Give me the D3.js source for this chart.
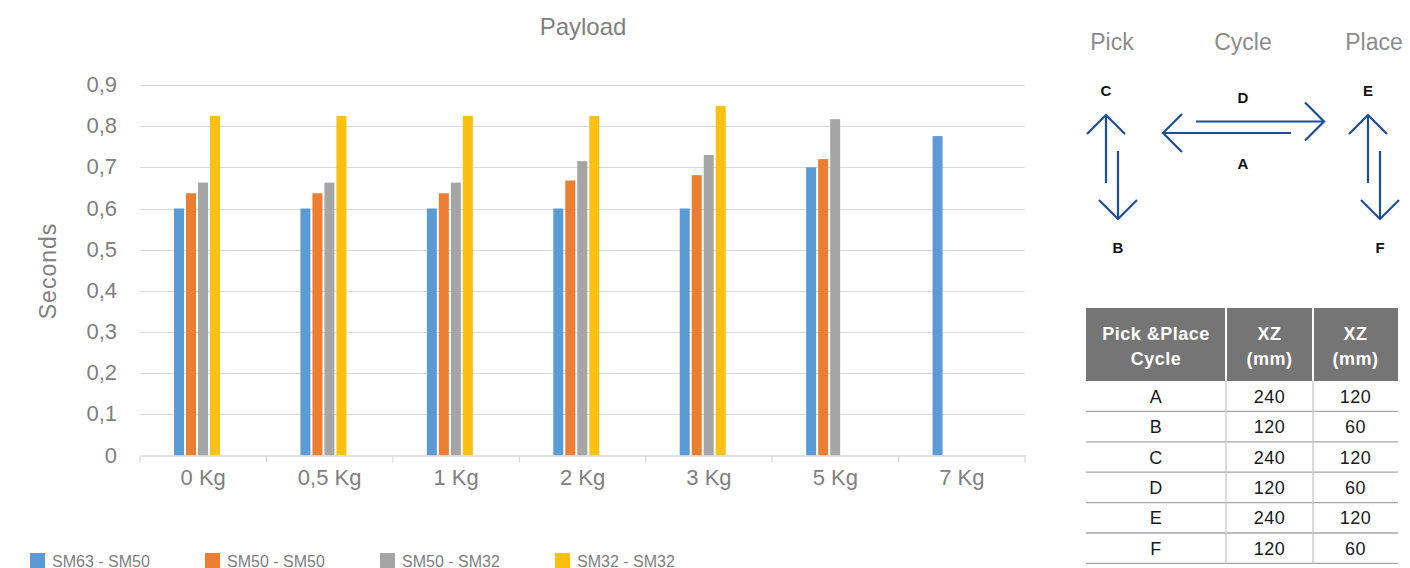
<!DOCTYPE html>
<html>
<head>
<meta charset="utf-8">
<script src="https://cdn.jsdelivr.net/npm/d3@7"></script>
<style>
  html, body { margin: 0; padding: 0; background: #fff; }
  svg { display: block; font-family: "Liberation Sans", Arial, Helvetica, sans-serif; }
</style>
</head>
<body>
<svg id="chart" width="1410" height="568"></svg>
<script>
// ---------- data ----------
const categories = ["0 Kg", "0,5 Kg", "1 Kg", "2 Kg", "3 Kg", "5 Kg", "7 Kg"];
const seriesNames = ["SM63 - SM50", "SM50 - SM50", "SM50 - SM32", "SM32 - SM32"];
const sm63_sm50 = [0.60, 0.60, 0.60, 0.60, 0.60, 0.70, 0.776];
const sm50_sm50 = [0.637, 0.637, 0.637, 0.668, 0.681, 0.72, null];
const sm50_sm32 = [0.663, 0.663, 0.663, 0.715, 0.730, 0.817, null];
const sm32_sm32 = [0.825, 0.825, 0.825, 0.825, 0.849, null, null];
const yTicks = [0, 0.1, 0.2, 0.3, 0.4, 0.5, 0.6, 0.7, 0.8, 0.9];
const colors = ["#5b9bd5", "#ed7d31", "#a5a5a5", "#fcc010"];

const diagramHeads = ["Pick", "Cycle", "Place"];
const tableHeader = [["Pick &Place", "Cycle"], ["XZ", "(mm)"], ["XZ", "(mm)"]];
const tableCycles = ["A", "B", "C", "D", "E", "F"];
const tableXZ1 = [240, 120, 240, 120, 240, 120];
const tableXZ2 = [120, 60, 120, 60, 120, 60];

// ---------- chart ----------
const svg = d3.select("#chart");
const allSeries = [sm63_sm50, sm50_sm50, sm50_sm32, sm32_sm32];

const x = d3.scaleBand().domain(categories).range([140, 1025]).padding(0);
const y = d3.scaleLinear().domain([0, 0.9]).range([455.5, 85]);
const barW = 10, barStep = 12, groupOffset = 34;

// title
svg.append("text").attr("x", 583).attr("y", 35).attr("text-anchor", "middle")
  .attr("font-size", 24).attr("fill", "#808080").text("Payload");

// gridlines
svg.append("g").selectAll("line").data(yTicks.slice(1)).join("line")
  .attr("x1", 140).attr("x2", 1025)
  .attr("y1", d => Math.round(y(d)) + 0.5).attr("y2", d => Math.round(y(d)) + 0.5)
  .attr("stroke", "#d9d9d9").attr("stroke-width", 1.2);

// y tick labels
svg.append("g").selectAll("text").data(yTicks).join("text")
  .attr("x", 117).attr("y", d => y(d) + 7)
  .attr("text-anchor", "end").attr("font-size", 22).attr("fill", "#808080")
  .text(d => d3.format(".1f")(d).replace(".", ",").replace(/^0,0$/, "0"));

// y axis title
svg.append("text").attr("transform", "translate(56,271) rotate(-90)")
  .attr("text-anchor", "middle").attr("font-size", 23).attr("letter-spacing", 1)
  .attr("fill", "#808080").text("Seconds");

// bars
allSeries.forEach((vals, si) => {
  svg.append("g").selectAll("rect")
    .data(categories.map((c, i) => ({ c, v: vals[i] })).filter(d => d.v != null))
    .join("rect")
    .attr("x", d => x(d.c) + groupOffset + si * barStep)
    .attr("y", d => y(d.v))
    .attr("width", barW)
    .attr("height", d => y(0) - y(d.v))
    .attr("fill", colors[si]);
});

// x axis
const xAxis = d3.axisBottom(x).tickSize(0).tickFormat(d => d);
const gx = svg.append("g").attr("transform", `translate(0,${y(0)})`).call(xAxis);
gx.select(".domain").attr("stroke", "#d9d9d9").attr("stroke-width", 1.5);
gx.selectAll(".tick text").attr("font-size", 22).attr("fill", "#808080")
  .attr("font-family", "Liberation Sans, Arial, sans-serif").attr("dy", 0).attr("y", 29);
// boundary tick marks
const bounds = categories.map(c => x(c)).concat([x.range()[1]]);
svg.append("g").selectAll("line").data(bounds).join("line")
  .attr("x1", d => d).attr("x2", d => d).attr("y1", y(0)).attr("y2", y(0) + 7)
  .attr("stroke", "#d9d9d9").attr("stroke-width", 1.2);

// legend
const legend = svg.append("g").selectAll("g").data(seriesNames).join("g")
  .attr("transform", (d, i) => `translate(${30 + i * 175},553)`);
legend.append("rect").attr("width", 15).attr("height", 15).attr("fill", (d, i) => colors[i]);
legend.append("text").attr("x", 22).attr("y", 13.5).attr("font-size", 16)
  .attr("fill", "#808080").text(d => d);

// ---------- cycle diagram ----------
const headX = [1112, 1243, 1374];
svg.append("g").selectAll("text").data(diagramHeads).join("text")
  .attr("x", (d, i) => headX[i]).attr("y", 50).attr("text-anchor", "middle")
  .attr("font-size", 23).attr("fill", "#8c8c8c").text(d => d);

const arrowColor = "#1b4f9c";
const arrows = [
  // [tail x, tail y, tip x, tip y]
  [1106, 183, 1106, 115],
  [1118, 151, 1118, 219],
  [1196, 121.5, 1324, 121.5],
  [1291, 133, 1163, 133],
  [1368, 183, 1368, 115],
  [1380, 151, 1380, 219]
];
const ag = svg.append("g").attr("stroke", arrowColor).attr("stroke-width", 2.2)
  .attr("fill", "none").attr("stroke-linecap", "butt");
arrows.forEach(([x1, y1, x2, y2]) => {
  const dx = Math.sign(x2 - x1), dy = Math.sign(y2 - y1);
  const h = 19;
  ag.append("line").attr("x1", x1).attr("y1", y1).attr("x2", x2).attr("y2", y2);
  const p1 = [x2 - dx * h - dy * h, y2 - dy * h - dx * h];
  const p2 = [x2 - dx * h + dy * h, y2 - dy * h + dx * h];
  ag.append("path").attr("d", `M${p1[0]},${p1[1]}L${x2},${y2}L${p2[0]},${p2[1]}`);
});

const letterPos = [["C", 1106, 96], ["D", 1243, 103], ["E", 1368, 96],
                   ["A", 1243, 169], ["B", 1118, 253], ["F", 1380, 253]];
svg.append("g").selectAll("text").data(letterPos).join("text")
  .attr("x", d => d[1]).attr("y", d => d[2]).attr("text-anchor", "middle")
  .attr("font-size", 15).attr("font-weight", "bold").attr("fill", "#111").text(d => d[0]);

// ---------- table ----------
const colEdges = [1086, 1226, 1313, 1398];
const headTop = 308, headBot = 381, rowH = 30.4;
const tg = svg.append("g");
tg.append("rect").attr("x", colEdges[0]).attr("y", headTop)
  .attr("width", colEdges[3] - colEdges[0]).attr("height", headBot - headTop).attr("fill", "#757575");
tableHeader.forEach((lines, ci) => {
  const cx = (colEdges[ci] + colEdges[ci + 1]) / 2;
  lines.forEach((t, li) => {
    tg.append("text").attr("x", cx).attr("y", 340 + li * 25).attr("text-anchor", "middle")
      .attr("font-size", 18).attr("font-weight", "bold").attr("fill", "#fff")
      .attr("letter-spacing", 0.5).text(t);
  });
});
// header separators
[colEdges[1], colEdges[2]].forEach(cx => {
  tg.append("line").attr("x1", cx).attr("x2", cx).attr("y1", headTop).attr("y2", headBot)
    .attr("stroke", "#fff").attr("stroke-width", 2);
});
// body
tableCycles.forEach((c, ri) => {
  const top = headBot + ri * rowH;
  const cy = top + rowH / 2 + 6.5;
  [c, tableXZ1[ri], tableXZ2[ri]].forEach((v, ci) => {
    tg.append("text").attr("x", (colEdges[ci] + colEdges[ci + 1]) / 2).attr("y", cy)
      .attr("text-anchor", "middle").attr("font-size", 18).attr("fill", "#1a1a1a")
      .attr("letter-spacing", 0.5).text(v);
  });
  tg.append("line").attr("x1", colEdges[0]).attr("x2", colEdges[3])
    .attr("y1", top + rowH).attr("y2", top + rowH).attr("stroke", "#a6a6a6").attr("stroke-width", 1.3);
});
[colEdges[1], colEdges[2]].forEach(cx => {
  tg.append("line").attr("x1", cx).attr("x2", cx).attr("y1", headBot)
    .attr("y2", headBot + rowH * tableCycles.length).attr("stroke", "#c8c8c8").attr("stroke-width", 1.3);
});
</script>
</body>
</html>
